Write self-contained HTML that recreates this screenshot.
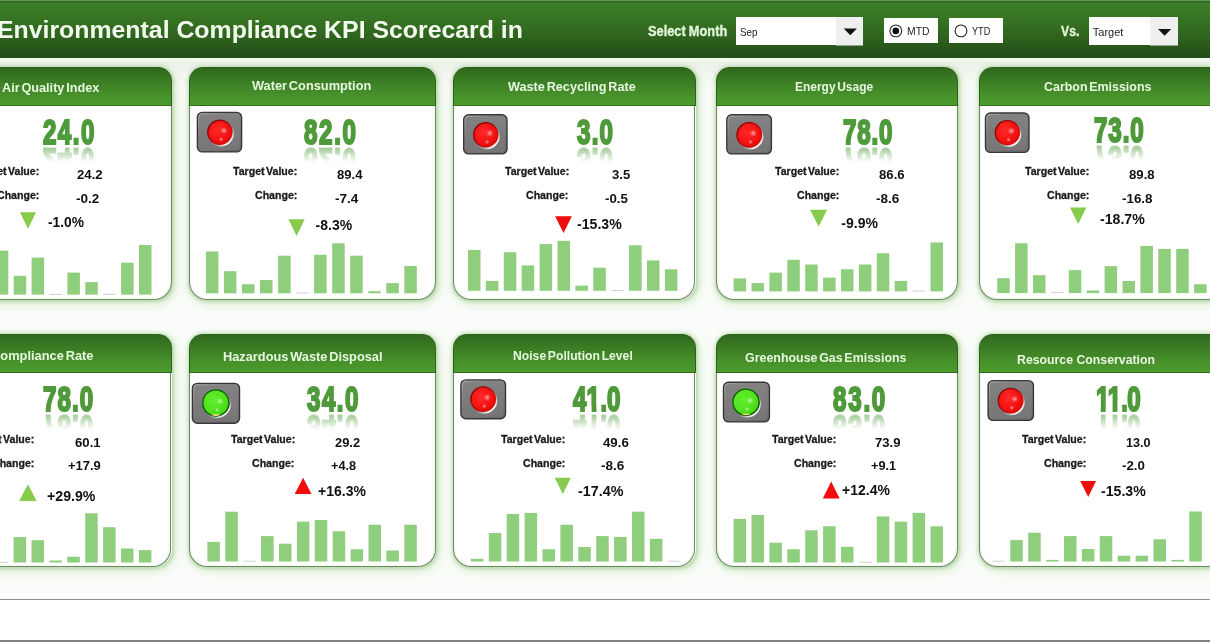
<!DOCTYPE html>
<html lang="en"><head><meta charset="utf-8"><title>Environmental Compliance KPI Scorecard</title>
<style>
html,body{margin:0;padding:0}
body{width:1210px;height:642px;overflow:hidden;position:relative;background:#fff;font-family:"Liberation Sans",sans-serif;font-weight:700}
#bg{position:absolute;left:0;top:0;width:1210px;height:599.5px;background:#fafcf9}
#st{position:absolute;left:0;top:58px;width:1210px;height:30px;background:linear-gradient(#f3fcf0 0,#edf2eb 5px,#eff3ed 10px,#f4f7f2 18px,#fafcf9 30px)}
#ln{position:absolute;left:0;top:598.8px;width:1210px;height:1.4px;background:#8e908c}
#bt{position:absolute;left:0;top:640.3px;width:1210px;height:2px;background:#828282}
#hdr{position:absolute;left:0;top:0;width:1210px;height:58px;background:linear-gradient(#6b945a 0,#6b945a 1px,#2f6a1e 1.5px,#2f6a1e 2.2px,#3e7f2a 3.5px,#3a7925 10px,#356f21 24px,#2f641e 36px,#28571b 47px,#234e19 58px)}
.gl{position:absolute;border-radius:14px 14px 18px 18px;box-shadow:.8px .8px 3.5px 1px rgba(120,185,95,.42),2px 3px 10px 2px rgba(150,205,125,.26)}
.bd{position:absolute;box-sizing:border-box;border:1.3px solid #72866b;border-top:none;border-radius:0 0 18px 18px;background:#fff;box-shadow:inset 0 0 3px rgba(150,205,125,.35)}
.hd{position:absolute;box-sizing:border-box;border:1.5px solid #2e621c;border-top-width:1.2px;border-bottom:1.4px solid #35691f;border-radius:14px 14px 0 0;background:linear-gradient(#2f691d,#3b7c24 35%,#468f2a 70%,#4c9c2e)}
h1,h2{margin:0;font-weight:700}
.t{position:absolute;white-space:nowrap;line-height:1;transform-origin:0 0}
.n{font-size:35.0px;color:#4f9a3a;transform:scaleX(0.69);-webkit-text-stroke:2.2px #4f9a3a;-webkit-box-reflect:below -5.4px linear-gradient(transparent 46%,rgba(255,255,255,.68))}
.l{-webkit-text-stroke:.3px #1a1a1a}
.n i{position:absolute;background:#fff}
.box{position:absolute;background:#fff}
.btn{position:absolute;background:#efefef}
svg{position:absolute;left:0;top:0}
</style></head>
<body>
<div id="bg"></div><div id="st"></div><div id="ln"></div><div id="bt"></div>
<svg width="0" height="0"><defs>
<linearGradient id="gb" x1="0" y1="0" x2="0" y2="1"><stop offset="0" stop-color="#848283"/><stop offset="1" stop-color="#767475"/></linearGradient>
<linearGradient id="gbv" x1="0" y1="0" x2="1" y2="1"><stop offset="0" stop-color="#b5b5b5" stop-opacity=".9"/><stop offset=".35" stop-color="#8a8a8a" stop-opacity=".2"/><stop offset="1" stop-color="#555" stop-opacity=".6"/></linearGradient>
<radialGradient id="gr" cx=".42" cy=".4" r=".65"><stop offset="0" stop-color="#ff2a2a"/><stop offset=".7" stop-color="#f31010"/><stop offset="1" stop-color="#d40808"/></radialGradient>
<radialGradient id="gg" cx=".42" cy=".4" r=".65"><stop offset="0" stop-color="#62ee2c"/><stop offset=".7" stop-color="#4fe01c"/><stop offset="1" stop-color="#3cc812"/></radialGradient>
<radialGradient id="hl"><stop offset="0" stop-color="#fff" stop-opacity=".6"/><stop offset=".5" stop-color="#fff" stop-opacity=".28"/><stop offset="1" stop-color="#fff" stop-opacity="0"/></radialGradient>
<linearGradient id="ro" x1="0" y1="0" x2="1" y2="1"><stop offset="0" stop-color="#5a0808" stop-opacity=".95"/><stop offset=".5" stop-color="#7a0808" stop-opacity=".6"/><stop offset=".8" stop-color="#b00" stop-opacity="0"/></linearGradient>
<linearGradient id="rim" x1="0" y1="0" x2="1" y2="1"><stop offset="0" stop-color="#555" stop-opacity="0"/><stop offset=".5" stop-color="#aaa" stop-opacity=".15"/><stop offset=".8" stop-color="#f4f4f4" stop-opacity=".95"/><stop offset="1" stop-color="#fff" stop-opacity="1"/></linearGradient>
</defs></svg>
<header>
<div id="hdr"></div>

<div class="box" style="left:736px;top:17px;width:127px;height:28px"></div><div class="btn" style="left:836px;top:17px;width:27px;height:28px;box-shadow:0 1px 0 #9aa097"></div>
<div class="box" style="left:883.5px;top:18.4px;width:54.5px;height:24.2px"></div>
<div class="box" style="left:949.2px;top:18.4px;width:54px;height:24.2px"></div>
<div class="box" style="left:1088.6px;top:17px;width:89.6px;height:28.4px"></div><div class="btn" style="left:1150.4px;top:17px;width:27.8px;height:28.4px;box-shadow:0 1px 0 #9aa097"></div>

<svg width="1210" height="58" viewBox="0 0 1210 58">
<polygon points="843.7,28.6 856.9,28.6 850.3,35.3" fill="#111"/>
<polygon points="1158,28.9 1171.2,28.9 1164.6,35.7" fill="#111"/>
<circle cx="895.8" cy="30.9" r="5.9" fill="#fff" stroke="#222" stroke-width="1.1"/><circle cx="895.8" cy="30.9" r="3.3" fill="#111"/>
<circle cx="961" cy="30.9" r="5.9" fill="#fff" stroke="#222" stroke-width="1.1"/>
</svg>
<h1 class="t" style="left:-3.20px;top:18.10px;font-size:24.6px;color:#f3fbee;transform:scaleX(1.0100);">Environmental Compliance KPI Scorecard in</h1>
<span class="t" style="left:647.90px;top:25.30px;font-size:13.8px;color:#e1f5d8;word-spacing:-0.5px;-webkit-text-stroke:.35px #e1f5d8;transform:scaleX(0.9287);">Select Month</span>
<span class="t" style="left:1061.00px;top:25.30px;font-size:13.8px;color:#e1f5d8;-webkit-text-stroke:.35px #e1f5d8;transform:scaleX(0.8839);">Vs.</span>
<span class="t" style="left:740.30px;top:26.50px;font-size:11px;color:#222;font-weight:400;transform:scaleX(0.8935);">Sep</span>
<span class="t" style="left:1092.80px;top:26.50px;font-size:11px;color:#222;font-weight:400;">Target</span>
<span class="t" style="left:906.50px;top:26.00px;font-size:11px;color:#222;font-weight:400;transform:scaleX(0.9447);">MTD</span>
<span class="t" style="left:971.70px;top:26.00px;font-size:11px;color:#222;font-weight:400;transform:scaleX(0.8319);">YTD</span>
</header>
<main>
<section><div class="gl" style="left:-75.0px;top:67.0px;width:247.0px;height:233.0px"></div><div class="bd" style="left:-75.1px;top:103.5px;width:246.6px;height:196.5px"></div><div class="hd" style="left:-75.0px;top:67.0px;width:247.0px;height:39.1px"></div>
<svg style="left:0px;top:67px" width="172" height="233" viewBox="0 67 172 233"><polygon points="20.0,212.3 36.0,212.3 28.0,228.7" fill="#87cb4d"/><rect x="-57.9" y="274.6" width="12.5" height="20.0" fill="#8fce7d"/><rect x="-40.0" y="264.6" width="12.5" height="30.0" fill="#8fce7d"/><rect x="-22.1" y="284.6" width="12.5" height="10.0" fill="#8fce7d"/><rect x="-4.2" y="250.6" width="12.5" height="44.0" fill="#8fce7d"/><rect x="13.7" y="275.8" width="12.5" height="18.8" fill="#8fce7d"/><rect x="31.6" y="257.6" width="12.5" height="37.0" fill="#8fce7d"/><rect x="49.5" y="293.9" width="12.5" height="0.7" fill="#b9bdb6"/><rect x="67.4" y="272.6" width="12.5" height="22.0" fill="#8fce7d"/><rect x="85.3" y="282.1" width="12.5" height="12.5" fill="#8fce7d"/><rect x="103.2" y="293.9" width="12.5" height="0.7" fill="#b9bdb6"/><rect x="121.1" y="262.6" width="12.5" height="32.0" fill="#8fce7d"/><rect x="139.0" y="245.0" width="12.5" height="49.6" fill="#8fce7d"/></svg>
<h2 class="t" style="left:2.00px;top:81.00px;font-size:13.0px;color:#e7f7df;word-spacing:-1.8px;transform:scaleX(0.9761);">Air Quality Index</h2><span class="t n" style="left:42.86px;top:113.70px;letter-spacing:2.08px;">24.0</span>
<span class="t l" style="left:-25.40px;top:166.20px;font-size:11.0px;color:#1a1a1a;word-spacing:-1.5px;transform:scaleX(0.9617);">Target Value:</span><span class="t" style="left:76.80px;top:167.50px;font-size:13.0px;color:#111;transform:scaleX(1.0160);">24.2</span><span class="t l" style="left:-3.51px;top:189.60px;font-size:11.0px;color:#1a1a1a;transform:scaleX(0.9617);">Change:</span><span class="t" style="left:76.30px;top:191.90px;font-size:13.0px;color:#111;transform:scaleX(1.0433);">-0.2</span><span class="t" style="left:48.00px;top:214.50px;font-size:14.0px;color:#111;transform:scaleX(0.9851);">-1.0%</span></section>
<section><div class="gl" style="left:188.7px;top:67.0px;width:247.7px;height:233.0px"></div><div class="bd" style="left:188.6px;top:103.5px;width:247.3px;height:196.5px"></div><div class="hd" style="left:188.7px;top:67.0px;width:247.7px;height:39.1px"></div>
<svg style="left:188px;top:67px" width="249" height="233" viewBox="188 67 249 233"><g><rect x="197.4" y="112.4" width="44.2" height="39.5" rx="5" fill="url(#gb)" stroke="#363636" stroke-width="1.4"/><rect x="198.8" y="113.8" width="41.4" height="36.7" rx="3.2" fill="none" stroke="url(#gbv)" stroke-width="1"/><circle cx="220.8" cy="133.6" r="13.0" fill="url(#rim)"/><circle cx="219.9" cy="132.3" r="12.6" fill="url(#gr)"/><circle cx="219.9" cy="132.3" r="12.1" fill="none" stroke="url(#ro)" stroke-width="1.4"/><circle cx="223.9" cy="130.6" r="3.6" fill="url(#hl)"/><circle cx="221.1" cy="139.3" r="2.3" fill="url(#hl)"/></g><polygon points="288.5,219.2 304.7,219.2 296.6,236.0" fill="#87cb4d"/><rect x="205.9" y="251.5" width="12.5" height="41.8" fill="#8fce7d"/><rect x="223.9" y="271.2" width="12.5" height="22.1" fill="#8fce7d"/><rect x="242.0" y="284.2" width="12.5" height="9.1" fill="#8fce7d"/><rect x="260.0" y="280.0" width="12.5" height="13.3" fill="#8fce7d"/><rect x="278.1" y="255.7" width="12.5" height="37.6" fill="#8fce7d"/><rect x="296.1" y="292.6" width="12.5" height="0.7" fill="#b9bdb6"/><rect x="314.1" y="254.8" width="12.5" height="38.5" fill="#8fce7d"/><rect x="332.2" y="243.3" width="12.5" height="50.0" fill="#8fce7d"/><rect x="350.2" y="255.7" width="12.5" height="37.6" fill="#8fce7d"/><rect x="368.3" y="291.2" width="12.5" height="2.1" fill="#8fce7d"/><rect x="386.3" y="283.1" width="12.5" height="10.2" fill="#8fce7d"/><rect x="404.3" y="266.0" width="12.5" height="27.3" fill="#8fce7d"/></svg>
<h2 class="t" style="left:252.40px;top:79.20px;font-size:13.0px;color:#e7f7df;word-spacing:-1.8px;transform:scaleX(0.9839);">Water Consumption</h2><span class="t n" style="left:303.56px;top:113.70px;letter-spacing:2.37px;">82.0</span>
<span class="t l" style="left:233.10px;top:166.20px;font-size:11.0px;color:#1a1a1a;word-spacing:-1.5px;transform:scaleX(0.9617);">Target Value:</span><span class="t" style="left:336.50px;top:167.50px;font-size:13.0px;color:#111;transform:scaleX(1.0081);">89.4</span><span class="t l" style="left:254.99px;top:189.60px;font-size:11.0px;color:#1a1a1a;transform:scaleX(0.9617);">Change:</span><span class="t" style="left:335.00px;top:191.90px;font-size:13.0px;color:#111;transform:scaleX(1.0433);">-7.4</span><span class="t" style="left:315.60px;top:218.00px;font-size:14.0px;color:#111;">-8.3%</span></section>
<section><div class="gl" style="left:452.7px;top:67.0px;width:243.1px;height:233.0px"></div><div class="bd" style="left:452.6px;top:103.5px;width:242.7px;height:196.5px"></div><div class="hd" style="left:452.7px;top:67.0px;width:243.1px;height:39.1px"></div>
<svg style="left:452px;top:67px" width="244" height="233" viewBox="452 67 244 233"><g><rect x="463.7" y="114.8" width="43.3" height="39.1" rx="5" fill="url(#gb)" stroke="#363636" stroke-width="1.4"/><rect x="465.1" y="116.2" width="40.5" height="36.3" rx="3.2" fill="none" stroke="url(#gbv)" stroke-width="1"/><circle cx="486.7" cy="136.2" r="13.0" fill="url(#rim)"/><circle cx="485.8" cy="134.9" r="12.6" fill="url(#gr)"/><circle cx="485.8" cy="134.9" r="12.1" fill="none" stroke="url(#ro)" stroke-width="1.4"/><circle cx="489.8" cy="133.2" r="3.6" fill="url(#hl)"/><circle cx="487.0" cy="141.9" r="2.3" fill="url(#hl)"/></g><polygon points="555.1,216.2 571.9,216.2 563.5,233.0" fill="#f20d0d"/><rect x="468.0" y="249.9" width="12.5" height="40.9" fill="#8fce7d"/><rect x="485.9" y="280.9" width="12.5" height="9.9" fill="#8fce7d"/><rect x="503.8" y="252.2" width="12.5" height="38.6" fill="#8fce7d"/><rect x="521.7" y="265.4" width="12.5" height="25.4" fill="#8fce7d"/><rect x="539.6" y="244.1" width="12.5" height="46.7" fill="#8fce7d"/><rect x="557.5" y="240.8" width="12.5" height="50.0" fill="#8fce7d"/><rect x="575.4" y="285.6" width="12.5" height="5.2" fill="#8fce7d"/><rect x="593.3" y="267.7" width="12.5" height="23.1" fill="#8fce7d"/><rect x="611.2" y="290.1" width="12.5" height="0.7" fill="#b9bdb6"/><rect x="629.1" y="245.3" width="12.5" height="45.5" fill="#8fce7d"/><rect x="647.0" y="260.4" width="12.5" height="30.4" fill="#8fce7d"/><rect x="664.9" y="269.3" width="12.5" height="21.5" fill="#8fce7d"/></svg>
<h2 class="t" style="left:508.40px;top:80.40px;font-size:13.0px;color:#e7f7df;word-spacing:-1.8px;transform:scaleX(0.9754);">Waste Recycling Rate</h2><span class="t n" style="left:577.26px;top:113.70px;letter-spacing:1.75px;">3.0</span>
<span class="t l" style="left:504.50px;top:166.20px;font-size:11.0px;color:#1a1a1a;word-spacing:-1.5px;transform:scaleX(0.9617);">Target Value:</span><span class="t" style="left:611.80px;top:167.50px;font-size:13.0px;color:#111;transform:scaleX(1.0069);">3.5</span><span class="t l" style="left:526.39px;top:189.60px;font-size:11.0px;color:#1a1a1a;transform:scaleX(0.9617);">Change:</span><span class="t" style="left:605.30px;top:191.90px;font-size:13.0px;color:#111;transform:scaleX(1.0210);">-0.5</span><span class="t" style="left:576.50px;top:217.10px;font-size:14.0px;color:#111;transform:scaleX(1.0072);">-15.3%</span></section>
<section><div class="gl" style="left:716.3px;top:67.0px;width:241.9px;height:233.0px"></div><div class="bd" style="left:716.2px;top:103.5px;width:241.5px;height:196.5px"></div><div class="hd" style="left:716.3px;top:67.0px;width:241.9px;height:39.1px"></div>
<svg style="left:716px;top:67px" width="243" height="233" viewBox="716 67 243 233"><g><rect x="726.8" y="114.8" width="44.6" height="39.1" rx="5" fill="url(#gb)" stroke="#363636" stroke-width="1.4"/><rect x="728.2" y="116.2" width="41.8" height="36.3" rx="3.2" fill="none" stroke="url(#gbv)" stroke-width="1"/><circle cx="750.2" cy="136.2" r="13.2" fill="url(#rim)"/><circle cx="749.3" cy="134.9" r="12.8" fill="url(#gr)"/><circle cx="749.3" cy="134.9" r="12.3" fill="none" stroke="url(#ro)" stroke-width="1.4"/><circle cx="753.3" cy="133.2" r="3.6" fill="url(#hl)"/><circle cx="750.5" cy="141.9" r="2.3" fill="url(#hl)"/></g><polygon points="810.1,209.7 827.1,209.7 818.6,226.5" fill="#87cb4d"/><rect x="733.6" y="278.4" width="12.5" height="13.0" fill="#8fce7d"/><rect x="751.5" y="283.1" width="12.5" height="8.3" fill="#8fce7d"/><rect x="769.4" y="272.6" width="12.5" height="18.8" fill="#8fce7d"/><rect x="787.3" y="259.8" width="12.5" height="31.6" fill="#8fce7d"/><rect x="805.2" y="264.5" width="12.5" height="26.9" fill="#8fce7d"/><rect x="823.1" y="277.6" width="12.5" height="13.8" fill="#8fce7d"/><rect x="841.0" y="269.3" width="12.5" height="22.1" fill="#8fce7d"/><rect x="858.9" y="264.5" width="12.5" height="26.9" fill="#8fce7d"/><rect x="876.8" y="253.2" width="12.5" height="38.2" fill="#8fce7d"/><rect x="894.7" y="280.9" width="12.5" height="10.5" fill="#8fce7d"/><rect x="912.6" y="290.7" width="12.5" height="0.7" fill="#b9bdb6"/><rect x="930.5" y="242.4" width="12.5" height="49.0" fill="#8fce7d"/></svg>
<h2 class="t" style="left:795.40px;top:80.00px;font-size:13.0px;color:#e7f7df;word-spacing:-1.8px;transform:scaleX(0.9198);">Energy Usage</h2><span class="t n" style="left:842.76px;top:113.70px;letter-spacing:1.21px;">78.0</span>
<span class="t l" style="left:775.40px;top:166.20px;font-size:11.0px;color:#1a1a1a;word-spacing:-1.5px;transform:scaleX(0.9617);">Target Value:</span><span class="t" style="left:879.00px;top:167.50px;font-size:13.0px;color:#111;transform:scaleX(1.0120);">86.6</span><span class="t l" style="left:797.29px;top:189.60px;font-size:11.0px;color:#1a1a1a;transform:scaleX(0.9617);">Change:</span><span class="t" style="left:875.80px;top:191.90px;font-size:13.0px;color:#111;transform:scaleX(1.0388);">-8.6</span><span class="t" style="left:841.30px;top:215.60px;font-size:14.0px;color:#111;">-9.9%</span></section>
<section><div class="gl" style="left:978.7px;top:67.0px;width:247.3px;height:233.0px"></div><div class="bd" style="left:978.6px;top:103.5px;width:246.9px;height:196.5px"></div><div class="hd" style="left:978.7px;top:67.0px;width:247.3px;height:39.1px"></div>
<svg style="left:978px;top:67px" width="232" height="233" viewBox="978 67 232 233"><g><rect x="985.5" y="113.0" width="43.5" height="39.4" rx="5" fill="url(#gb)" stroke="#363636" stroke-width="1.4"/><rect x="986.9" y="114.4" width="40.7" height="36.6" rx="3.2" fill="none" stroke="url(#gbv)" stroke-width="1"/><circle cx="1008.3" cy="134.0" r="13.0" fill="url(#rim)"/><circle cx="1007.4" cy="132.7" r="12.6" fill="url(#gr)"/><circle cx="1007.4" cy="132.7" r="12.1" fill="none" stroke="url(#ro)" stroke-width="1.4"/><circle cx="1011.4" cy="131.0" r="3.6" fill="url(#hl)"/><circle cx="1008.6" cy="139.7" r="2.3" fill="url(#hl)"/></g><polygon points="1070.0,207.5 1086.3,207.5 1078.2,223.9" fill="#87cb4d"/><rect x="997.2" y="278.2" width="12.5" height="14.9" fill="#8fce7d"/><rect x="1015.1" y="243.3" width="12.5" height="49.8" fill="#8fce7d"/><rect x="1033.0" y="275.2" width="12.5" height="17.9" fill="#8fce7d"/><rect x="1050.9" y="292.4" width="12.5" height="0.7" fill="#b9bdb6"/><rect x="1068.8" y="270.1" width="12.5" height="23.0" fill="#8fce7d"/><rect x="1086.7" y="290.5" width="12.5" height="2.6" fill="#8fce7d"/><rect x="1104.6" y="266.1" width="12.5" height="27.0" fill="#8fce7d"/><rect x="1122.5" y="281.0" width="12.5" height="12.1" fill="#8fce7d"/><rect x="1140.4" y="245.9" width="12.5" height="47.2" fill="#8fce7d"/><rect x="1158.3" y="248.9" width="12.5" height="44.2" fill="#8fce7d"/><rect x="1176.2" y="248.9" width="12.5" height="44.2" fill="#8fce7d"/><rect x="1194.1" y="284.2" width="12.5" height="8.9" fill="#8fce7d"/></svg>
<h2 class="t" style="left:1043.70px;top:79.90px;font-size:13.0px;color:#e7f7df;word-spacing:-1.8px;transform:scaleX(0.9560);">Carbon Emissions</h2><span class="t n" style="left:1093.66px;top:111.50px;letter-spacing:1.31px;">73.0</span>
<span class="t l" style="left:1024.70px;top:166.20px;font-size:11.0px;color:#1a1a1a;word-spacing:-1.5px;transform:scaleX(0.9617);">Target Value:</span><span class="t" style="left:1128.80px;top:167.50px;font-size:13.0px;color:#111;transform:scaleX(1.0120);">89.8</span><span class="t l" style="left:1046.59px;top:189.60px;font-size:11.0px;color:#1a1a1a;transform:scaleX(0.9617);">Change:</span><span class="t" style="left:1122.30px;top:191.50px;font-size:13.0px;color:#111;transform:scaleX(1.0287);">-16.8</span><span class="t" style="left:1100.00px;top:212.30px;font-size:14.0px;color:#111;transform:scaleX(1.0095);">-18.7%</span></section>
<section><div class="gl" style="left:-75.0px;top:334.3px;width:246.5px;height:232.7px"></div><div class="bd" style="left:-75.1px;top:370.5px;width:246.1px;height:196.5px"></div><div class="hd" style="left:-75.0px;top:334.3px;width:246.5px;height:38.8px"></div>
<svg style="left:0px;top:334px" width="172" height="233" viewBox="0 334 172 233"><polygon points="19.2,501.0 36.6,501.0 27.9,484.2" fill="#87cb4d"/><rect x="-58.0" y="532.5" width="12.5" height="30.0" fill="#8fce7d"/><rect x="-40.1" y="550.5" width="12.5" height="12.0" fill="#8fce7d"/><rect x="-22.2" y="522.5" width="12.5" height="40.0" fill="#8fce7d"/><rect x="-4.3" y="561.8" width="12.5" height="0.7" fill="#b9bdb6"/><rect x="13.6" y="537.1" width="12.5" height="25.4" fill="#8fce7d"/><rect x="31.5" y="540.2" width="12.5" height="22.3" fill="#8fce7d"/><rect x="49.4" y="560.5" width="12.5" height="2.0" fill="#8fce7d"/><rect x="67.3" y="556.7" width="12.5" height="5.8" fill="#8fce7d"/><rect x="85.2" y="513.3" width="12.5" height="49.2" fill="#8fce7d"/><rect x="103.1" y="527.2" width="12.5" height="35.3" fill="#8fce7d"/><rect x="121.0" y="548.5" width="12.5" height="14.0" fill="#8fce7d"/><rect x="138.9" y="550.1" width="12.5" height="12.4" fill="#8fce7d"/></svg>
<h2 class="t" style="left:-8.92px;top:349.40px;font-size:13.0px;color:#e7f7df;word-spacing:-1.8px;transform:scaleX(0.9885);">Compliance Rate</h2><span class="t n" style="left:43.26px;top:381.30px;letter-spacing:1.55px;">78.0</span>
<span class="t l" style="left:-29.70px;top:433.80px;font-size:11.0px;color:#1a1a1a;word-spacing:-1.5px;transform:scaleX(0.9617);">Target Value:</span><span class="t" style="left:75.20px;top:435.50px;font-size:13.0px;color:#111;transform:scaleX(1.0120);">60.1</span><span class="t l" style="left:-7.81px;top:457.60px;font-size:11.0px;color:#1a1a1a;transform:scaleX(0.9617);">Change:</span><span class="t" style="left:68.30px;top:459.10px;font-size:13.0px;color:#111;transform:scaleX(0.9939);">+17.9</span><span class="t" style="left:46.90px;top:488.60px;font-size:14.0px;color:#111;transform:scaleX(1.0108);">+29.9%</span></section>
<section><div class="gl" style="left:188.7px;top:334.3px;width:247.7px;height:232.7px"></div><div class="bd" style="left:188.6px;top:370.5px;width:247.3px;height:196.5px"></div><div class="hd" style="left:188.7px;top:334.3px;width:247.7px;height:38.8px"></div>
<svg style="left:188px;top:334px" width="249" height="233" viewBox="188 334 249 233"><g><rect x="192.4" y="383.4" width="47.1" height="39.9" rx="5" fill="url(#gb)" stroke="#363636" stroke-width="1.4"/><rect x="193.8" y="384.8" width="44.3" height="37.1" rx="3.2" fill="none" stroke="url(#gbv)" stroke-width="1"/><circle cx="216.8" cy="404.2" r="14.0" fill="url(#rim)"/><circle cx="215.9" cy="402.9" r="13.6" fill="url(#gg)"/><circle cx="215.9" cy="402.9" r="13.1" fill="none" stroke="#0c540c" stroke-width="1.3"/><circle cx="219.9" cy="401.2" r="3.6" fill="url(#hl)"/><circle cx="217.1" cy="409.9" r="2.3" fill="url(#hl)"/><path d="M211.4 414.9 Q215.9 413.3 220.4 414.9 Q215.9 417.1 211.4 414.9Z" fill="#f5d77a"/></g><polygon points="294.7,494.1 311.5,494.1 303.1,477.7" fill="#f20d0d"/><rect x="207.4" y="541.9" width="12.5" height="19.6" fill="#8fce7d"/><rect x="225.3" y="511.7" width="12.5" height="49.8" fill="#8fce7d"/><rect x="243.2" y="560.8" width="12.5" height="0.7" fill="#b9bdb6"/><rect x="261.1" y="536.1" width="12.5" height="25.4" fill="#8fce7d"/><rect x="279.0" y="543.7" width="12.5" height="17.8" fill="#8fce7d"/><rect x="296.9" y="521.6" width="12.5" height="39.9" fill="#8fce7d"/><rect x="314.8" y="520.0" width="12.5" height="41.5" fill="#8fce7d"/><rect x="332.7" y="531.3" width="12.5" height="30.2" fill="#8fce7d"/><rect x="350.6" y="549.3" width="12.5" height="12.2" fill="#8fce7d"/><rect x="368.5" y="524.7" width="12.5" height="36.8" fill="#8fce7d"/><rect x="386.4" y="550.5" width="12.5" height="11.0" fill="#8fce7d"/><rect x="404.3" y="524.7" width="12.5" height="36.8" fill="#8fce7d"/></svg>
<h2 class="t" style="left:223.20px;top:350.00px;font-size:13.0px;color:#e7f7df;word-spacing:-1.8px;transform:scaleX(0.9840);">Hazardous Waste Disposal</h2><span class="t n" style="left:307.26px;top:381.30px;letter-spacing:2.18px;">34.0</span>
<span class="t l" style="left:230.50px;top:433.80px;font-size:11.0px;color:#1a1a1a;word-spacing:-1.5px;transform:scaleX(0.9617);">Target Value:</span><span class="t" style="left:335.00px;top:435.50px;font-size:13.0px;color:#111;transform:scaleX(0.9923);">29.2</span><span class="t l" style="left:252.39px;top:457.60px;font-size:11.0px;color:#1a1a1a;transform:scaleX(0.9617);">Change:</span><span class="t" style="left:331.10px;top:459.10px;font-size:13.0px;color:#111;transform:scaleX(0.9773);">+4.8</span><span class="t" style="left:318.00px;top:483.60px;font-size:14.0px;color:#111;">+16.3%</span></section>
<section><div class="gl" style="left:452.7px;top:334.3px;width:243.1px;height:232.7px"></div><div class="bd" style="left:452.6px;top:370.5px;width:242.7px;height:196.5px"></div><div class="hd" style="left:452.7px;top:334.3px;width:243.1px;height:38.8px"></div>
<svg style="left:452px;top:334px" width="244" height="233" viewBox="452 334 244 233"><g><rect x="460.9" y="379.9" width="44.6" height="38.8" rx="5" fill="url(#gb)" stroke="#363636" stroke-width="1.4"/><rect x="462.3" y="381.3" width="41.8" height="36.0" rx="3.2" fill="none" stroke="url(#gbv)" stroke-width="1"/><circle cx="484.1" cy="400.5" r="13.2" fill="url(#rim)"/><circle cx="483.2" cy="399.2" r="12.8" fill="url(#gr)"/><circle cx="483.2" cy="399.2" r="12.3" fill="none" stroke="url(#ro)" stroke-width="1.4"/><circle cx="487.2" cy="397.5" r="3.6" fill="url(#hl)"/><circle cx="484.4" cy="406.2" r="2.3" fill="url(#hl)"/></g><polygon points="554.7,477.7 570.8,477.7 562.8,494.1" fill="#87cb4d"/><rect x="470.9" y="558.8" width="12.5" height="2.7" fill="#8fce7d"/><rect x="488.8" y="533.0" width="12.5" height="28.5" fill="#8fce7d"/><rect x="506.7" y="514.0" width="12.5" height="47.5" fill="#8fce7d"/><rect x="524.6" y="512.9" width="12.5" height="48.6" fill="#8fce7d"/><rect x="542.5" y="549.3" width="12.5" height="12.2" fill="#8fce7d"/><rect x="560.4" y="524.7" width="12.5" height="36.8" fill="#8fce7d"/><rect x="578.3" y="547.0" width="12.5" height="14.5" fill="#8fce7d"/><rect x="596.2" y="536.1" width="12.5" height="25.4" fill="#8fce7d"/><rect x="614.1" y="536.9" width="12.5" height="24.6" fill="#8fce7d"/><rect x="632.0" y="511.7" width="12.5" height="49.8" fill="#8fce7d"/><rect x="649.9" y="538.8" width="12.5" height="22.7" fill="#8fce7d"/><rect x="667.8" y="560.8" width="12.5" height="0.7" fill="#b9bdb6"/></svg>
<h2 class="t" style="left:513.40px;top:349.20px;font-size:13.0px;color:#e7f7df;word-spacing:-1.8px;transform:scaleX(0.9367);">Noise Pollution Level</h2><span class="t n" style="left:572.96px;top:381.30px;letter-spacing:0.25px;">41.0<i style="left:19.20px;top:24.83px;width:7.56px;height:6.77px"></i><i style="left:33.77px;top:24.83px;width:6.92px;height:6.77px"></i></span>
<span class="t l" style="left:500.80px;top:433.80px;font-size:11.0px;color:#1a1a1a;word-spacing:-1.5px;transform:scaleX(0.9617);">Target Value:</span><span class="t" style="left:603.10px;top:435.50px;font-size:13.0px;color:#111;transform:scaleX(1.0200);">49.6</span><span class="t l" style="left:522.69px;top:457.60px;font-size:11.0px;color:#1a1a1a;transform:scaleX(0.9617);">Change:</span><span class="t" style="left:600.90px;top:459.10px;font-size:13.0px;color:#111;transform:scaleX(1.0433);">-8.6</span><span class="t" style="left:578.00px;top:483.60px;font-size:14.0px;color:#111;transform:scaleX(1.0230);">-17.4%</span></section>
<section><div class="gl" style="left:716.3px;top:334.3px;width:241.9px;height:232.7px"></div><div class="bd" style="left:716.2px;top:370.5px;width:241.5px;height:196.5px"></div><div class="hd" style="left:716.3px;top:334.3px;width:241.9px;height:38.8px"></div>
<svg style="left:716px;top:334px" width="243" height="233" viewBox="716 334 243 233"><g><rect x="723.5" y="382.3" width="45.9" height="39.6" rx="5" fill="url(#gb)" stroke="#363636" stroke-width="1.4"/><rect x="724.9" y="383.7" width="43.1" height="36.8" rx="3.2" fill="none" stroke="url(#gbv)" stroke-width="1"/><circle cx="746.9" cy="403.5" r="14.0" fill="url(#rim)"/><circle cx="746.0" cy="402.2" r="13.6" fill="url(#gg)"/><circle cx="746.0" cy="402.2" r="13.1" fill="none" stroke="#0c540c" stroke-width="1.3"/><circle cx="750.0" cy="400.5" r="3.6" fill="url(#hl)"/><circle cx="747.2" cy="409.2" r="2.3" fill="url(#hl)"/><path d="M741.5 414.2 Q746.0 412.6 750.5 414.2 Q746.0 416.4 741.5 414.2Z" fill="#f5d77a"/></g><polygon points="822.8,498.4 839.6,498.4 831.2,481.4" fill="#f20d0d"/><rect x="733.6" y="518.9" width="12.5" height="43.6" fill="#8fce7d"/><rect x="751.5" y="515.0" width="12.5" height="47.5" fill="#8fce7d"/><rect x="769.4" y="542.7" width="12.5" height="19.8" fill="#8fce7d"/><rect x="787.3" y="549.3" width="12.5" height="13.2" fill="#8fce7d"/><rect x="805.2" y="530.3" width="12.5" height="32.2" fill="#8fce7d"/><rect x="823.1" y="526.3" width="12.5" height="36.2" fill="#8fce7d"/><rect x="841.0" y="546.8" width="12.5" height="15.7" fill="#8fce7d"/><rect x="858.9" y="561.8" width="12.5" height="0.7" fill="#b9bdb6"/><rect x="876.8" y="516.4" width="12.5" height="46.1" fill="#8fce7d"/><rect x="894.7" y="521.6" width="12.5" height="40.9" fill="#8fce7d"/><rect x="912.6" y="512.9" width="12.5" height="49.6" fill="#8fce7d"/><rect x="930.5" y="526.3" width="12.5" height="36.2" fill="#8fce7d"/></svg>
<h2 class="t" style="left:744.90px;top:350.90px;font-size:13.0px;color:#e7f7df;word-spacing:-1.8px;transform:scaleX(0.9550);">Greenhouse Gas Emissions</h2><span class="t n" style="left:832.96px;top:381.30px;letter-spacing:2.56px;">83.0</span>
<span class="t l" style="left:771.70px;top:433.80px;font-size:11.0px;color:#1a1a1a;word-spacing:-1.5px;transform:scaleX(0.9617);">Target Value:</span><span class="t" style="left:875.10px;top:435.50px;font-size:13.0px;color:#111;transform:scaleX(1.0081);">73.9</span><span class="t l" style="left:793.59px;top:457.60px;font-size:11.0px;color:#1a1a1a;transform:scaleX(0.9617);">Change:</span><span class="t" style="left:871.20px;top:459.10px;font-size:13.0px;color:#111;transform:scaleX(0.9773);">+9.1</span><span class="t" style="left:842.00px;top:482.50px;font-size:14.0px;color:#111;">+12.4%</span></section>
<section><div class="gl" style="left:978.7px;top:334.3px;width:247.3px;height:232.9px"></div><div class="bd" style="left:978.6px;top:370.8px;width:246.9px;height:196.4px"></div><div class="hd" style="left:978.7px;top:334.3px;width:247.3px;height:39.1px"></div>
<svg style="left:978px;top:334px" width="232" height="234" viewBox="978 334 232 234"><g><rect x="988.1" y="380.6" width="45.3" height="39.8" rx="5" fill="url(#gb)" stroke="#363636" stroke-width="1.4"/><rect x="989.5" y="382.0" width="42.5" height="37.0" rx="3.2" fill="none" stroke="url(#gbv)" stroke-width="1"/><circle cx="1011.5" cy="402.0" r="13.2" fill="url(#rim)"/><circle cx="1010.6" cy="400.7" r="12.8" fill="url(#gr)"/><circle cx="1010.6" cy="400.7" r="12.3" fill="none" stroke="url(#ro)" stroke-width="1.4"/><circle cx="1014.6" cy="399.0" r="3.6" fill="url(#hl)"/><circle cx="1011.8" cy="407.7" r="2.3" fill="url(#hl)"/></g><polygon points="1080.2,481.0 1096.1,481.0 1088.2,497.1" fill="#f20d0d"/><rect x="992.4" y="560.8" width="12.5" height="0.7" fill="#b9bdb6"/><rect x="1010.3" y="540.1" width="12.5" height="21.4" fill="#8fce7d"/><rect x="1028.2" y="532.7" width="12.5" height="28.8" fill="#8fce7d"/><rect x="1046.1" y="559.9" width="12.5" height="1.6" fill="#8fce7d"/><rect x="1064.0" y="536.1" width="12.5" height="25.4" fill="#8fce7d"/><rect x="1081.9" y="549.0" width="12.5" height="12.5" fill="#8fce7d"/><rect x="1099.8" y="536.1" width="12.5" height="25.4" fill="#8fce7d"/><rect x="1117.7" y="555.7" width="12.5" height="5.8" fill="#8fce7d"/><rect x="1135.6" y="555.7" width="12.5" height="5.8" fill="#8fce7d"/><rect x="1153.5" y="539.3" width="12.5" height="22.2" fill="#8fce7d"/><rect x="1171.4" y="559.9" width="12.5" height="1.6" fill="#8fce7d"/><rect x="1189.3" y="511.5" width="12.5" height="50.0" fill="#8fce7d"/></svg>
<h2 class="t" style="left:1017.20px;top:352.70px;font-size:13.0px;color:#e7f7df;transform:scaleX(0.9457);">Resource Conservation</h2><span class="t n" style="left:1096.46px;top:381.30px;letter-spacing:-0.47px;">11.0<i style="left:-0.50px;top:24.83px;width:7.56px;height:6.77px"></i><i style="left:14.07px;top:24.83px;width:6.92px;height:6.77px"></i><i style="left:16.57px;top:24.83px;width:7.56px;height:6.77px"></i><i style="left:31.13px;top:24.83px;width:6.92px;height:6.77px"></i></span>
<span class="t l" style="left:1021.70px;top:433.80px;font-size:11.0px;color:#1a1a1a;word-spacing:-1.5px;transform:scaleX(0.9617);">Target Value:</span><span class="t" style="left:1126.20px;top:435.50px;font-size:13.0px;color:#111;transform:scaleX(0.9686);">13.0</span><span class="t l" style="left:1043.59px;top:457.60px;font-size:11.0px;color:#1a1a1a;transform:scaleX(0.9617);">Change:</span><span class="t" style="left:1122.30px;top:459.10px;font-size:13.0px;color:#111;transform:scaleX(1.0210);">-2.0</span><span class="t" style="left:1101.10px;top:483.60px;font-size:14.0px;color:#111;transform:scaleX(1.0095);">-15.3%</span></section>
</main>
</body></html>
